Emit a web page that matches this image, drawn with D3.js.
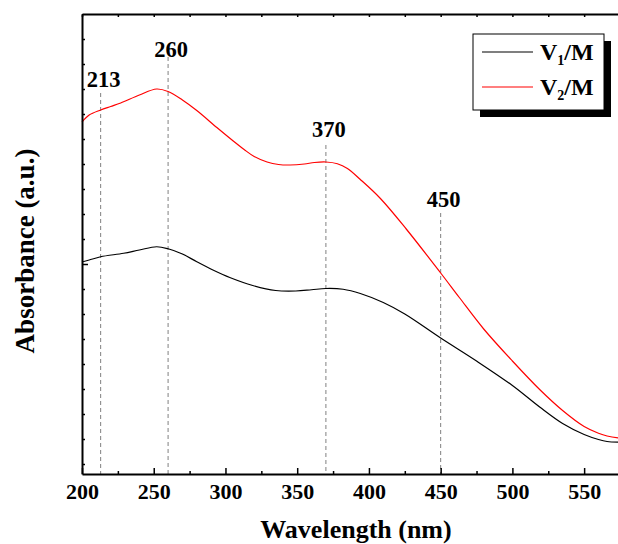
<!DOCTYPE html>
<html>
<head>
<meta charset="utf-8">
<script src="https://cdn.jsdelivr.net/npm/d3@7"></script>
<style>
  html, body { margin: 0; padding: 0; background: #fff; }
  svg { display: block; font-family: "Liberation Serif", "Times New Roman", serif; }
</style>
</head>
<body>
<svg id="chart" width="618" height="544"></svg>
<script>
// UV-Vis absorption spectra (arbitrary units)
const wavelengthV1 = [200, 205, 213, 229, 240, 252, 260, 270, 280, 292, 303, 319, 335, 349, 360, 370, 382, 394, 410, 425, 450, 475, 500, 519, 535, 550, 560, 566, 575];
const absorbV1     = [1.008, 1.016, 1.029, 1.043, 1.056, 1.069, 1.061, 1.040, 1.009, 0.974, 0.946, 0.914, 0.894, 0.892, 0.897, 0.902, 0.899, 0.882, 0.846, 0.800, 0.704, 0.612, 0.514, 0.428, 0.362, 0.318, 0.298, 0.290, 0.287];

const wavelengthV2 = [200, 205, 213, 220, 227, 240, 252, 260, 270, 280, 294, 305, 313, 320, 329, 337, 345, 355, 362, 370, 378, 385, 394, 408, 426, 450, 463, 480, 500, 519, 535, 550, 560, 566, 575];
const absorbV2     = [1.568, 1.596, 1.616, 1.630, 1.644, 1.676, 1.700, 1.690, 1.656, 1.614, 1.546, 1.494, 1.458, 1.430, 1.408, 1.398, 1.396, 1.400, 1.406, 1.408, 1.401, 1.382, 1.338, 1.262, 1.140, 0.964, 0.866, 0.740, 0.612, 0.498, 0.414, 0.350, 0.323, 0.312, 0.304];

const peakMarks = [213, 260, 370, 450];
const xTickLabels = [200, 250, 300, 350, 400, 450, 500, 550];
const seriesNames = ["V1/M", "V2/M"];
const seriesColors = ["#000000", "#ff0000"];

const svg = d3.select("#chart");
const mLeft = 82, mRight = 620, mTop = 14, mBottom = 474;

const x = d3.scaleLinear().domain([200, 575]).range([mLeft, mRight]);
const y = d3.scaleLinear().domain([0.16, 2.0]).range([mBottom, mTop]);

// dashed guide lines at the band positions, with their labels
const lineTop = {213: 93, 260: 57, 370: 145, 450: 213};
const labelBase = {213: 87, 260: 57, 370: 137, 450: 207};

svg.append("g").selectAll("line").data(peakMarks).join("line")
  .attr("x1", d => x(d)).attr("x2", d => x(d))
  .attr("y1", d => lineTop[d]).attr("y2", mBottom)
  .attr("stroke", "#808080").attr("stroke-width", 1)
  .attr("stroke-dasharray", "4,3");

svg.append("g").selectAll("text").data(peakMarks).join("text")
  .attr("x", d => x(d) + 3).attr("y", d => labelBase[d])
  .attr("text-anchor", "middle")
  .attr("font-size", 22.5).attr("font-weight", "bold")
  .text(d => d);

// spectra
const line = d3.line().curve(d3.curveCatmullRom.alpha(0.5))
  .x(d => x(d[0])).y(d => y(d[1]));

svg.append("path").datum(d3.zip(wavelengthV1, absorbV1))
  .attr("d", line).attr("fill", "none")
  .attr("stroke", seriesColors[0]).attr("stroke-width", 1.2);
svg.append("path").datum(d3.zip(wavelengthV2, absorbV2))
  .attr("d", line).attr("fill", "none")
  .attr("stroke", seriesColors[1]).attr("stroke-width", 1.2);

// axes
const minorX = d3.range(225, 576, 50);
svg.append("g").attr("transform", `translate(0,${mBottom})`)
  .call(d3.axisBottom(x).tickValues(minorX).tickSize(-3).tickFormat(""))
  .call(g => g.select(".domain").remove())
  .selectAll("line").attr("stroke-width", 1.5);
const xAxis = svg.append("g").attr("transform", `translate(0,${mBottom})`)
  .call(d3.axisBottom(x).tickValues(xTickLabels).tickSizeInner(-6).tickSizeOuter(0).tickPadding(9));
xAxis.select(".domain").attr("stroke-width", 2);
xAxis.selectAll(".tick line").attr("stroke-width", 1.5);
xAxis.selectAll("text").attr("font-family", "Liberation Serif").attr("font-size", 22)
  .attr("font-weight", "bold").attr("fill", "#000");

const topAxis = svg.append("g").attr("transform", `translate(0,${mTop})`)
  .call(d3.axisTop(x).tickValues(d3.range(200, 576, 25)).tickSizeInner(-3).tickSizeOuter(0).tickFormat(""));
topAxis.select(".domain").attr("stroke-width", 2);
topAxis.selectAll(".tick line").attr("stroke-width", 1.5);

const yTicks = d3.range(2, 20).map(i => i / 10);
const leftAxis = svg.append("g").attr("transform", `translate(${mLeft},0)`)
  .call(d3.axisLeft(y).tickValues(yTicks).tickSizeInner(-3).tickSizeOuter(0).tickFormat(""));
leftAxis.select(".domain").attr("stroke-width", 2);
leftAxis.selectAll(".tick line").attr("stroke-width", 1.5)
  .attr("x2", d => Math.abs(d - 1) < 1e-9 ? 6 : 3);

// axis titles
svg.append("text")
  .attr("x", 356).attr("y", 538)
  .attr("text-anchor", "middle")
  .attr("font-size", 26).attr("font-weight", "bold")
  .text("Wavelength (nm)");
svg.append("text")
  .attr("transform", "translate(34,251) rotate(-90)")
  .attr("text-anchor", "middle")
  .attr("font-size", 27).attr("font-weight", "bold")
  .text("Absorbance (a.u.)");

// legend with drop shadow
const lg = svg.append("g");
lg.append("rect").attr("x", 480).attr("y", 41).attr("width", 131).attr("height", 76).attr("fill", "#000");
lg.append("rect").attr("x", 473).attr("y", 34).attr("width", 131).attr("height", 76)
  .attr("fill", "#fff").attr("stroke", "#000").attr("stroke-width", 1);
const rows = [{sub: "1", color: seriesColors[0], y: 52}, {sub: "2", color: seriesColors[1], y: 87}];
rows.forEach((r, i) => {
  lg.append("line").attr("x1", 482).attr("x2", 533).attr("y1", r.y).attr("y2", r.y)
    .attr("stroke", r.color).attr("stroke-width", 1.2);
  const t = lg.append("text").attr("x", 540).attr("y", r.y + 8)
    .attr("font-size", 24).attr("font-weight", "bold");
  t.append("tspan").text(seriesNames[i].slice(0, 1));
  t.append("tspan").attr("font-size", 14).attr("dy", 5).text(r.sub);
  t.append("tspan").attr("dy", -5).text(seriesNames[i].slice(2));
});
</script>
</body>
</html>
